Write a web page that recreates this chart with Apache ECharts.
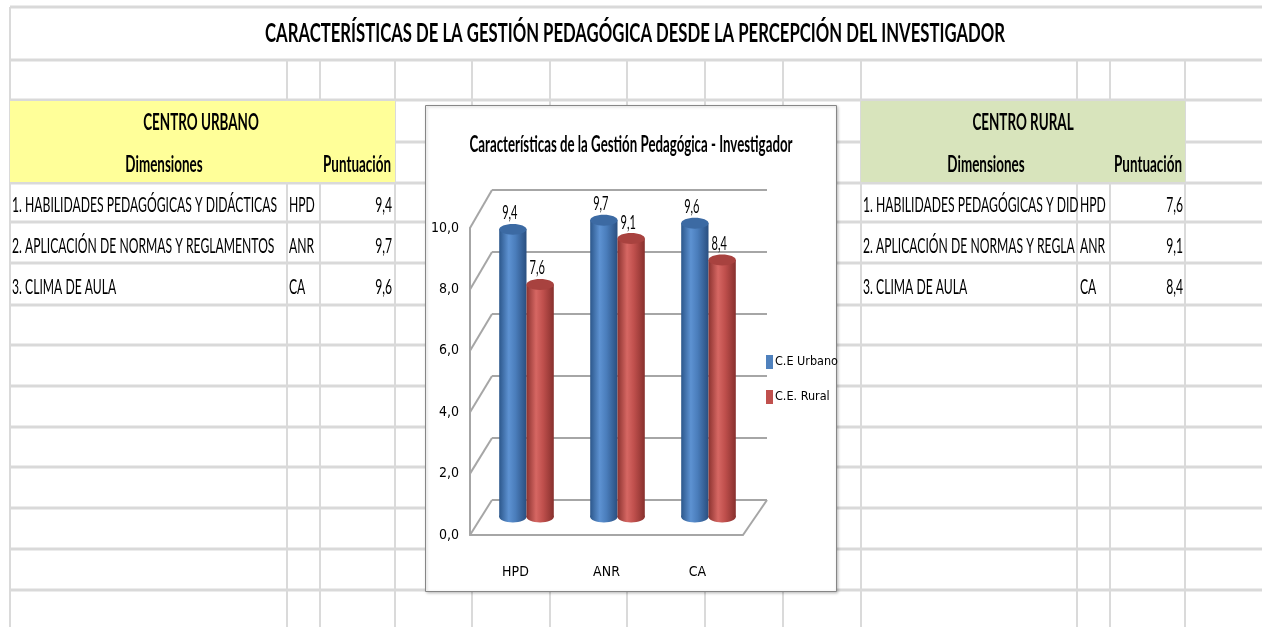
<!DOCTYPE html>
<html>
<head>
<meta charset="utf-8">
<script src="https://cdn.jsdelivr.net/npm/echarts@6/dist/echarts.min.js"></script>
<style>
  html, body { margin: 0; padding: 0; background: #fff; }
  #chart { width: 1262px; height: 627px; }
</style>
</head>
<body>
<div id="chart"></div>
<script>
// ---- data ----
const sheetTitle = 'CARACTERÍSTICAS DE LA GESTIÓN PEDAGÓGICA DESDE LA PERCEPCIÓN DEL INVESTIGADOR';
const chartTitle = 'Características de la Gestión Pedagógica - Investigador';
const categories = ['HPD', 'ANR', 'CA'];
const dimensions = [
  '1. HABILIDADES PEDAGÓGICAS Y DIDÁCTICAS',
  '2. APLICACIÓN DE NORMAS Y REGLAMENTOS',
  '3. CLIMA DE AULA'
];
const seriesNames = ['C.E Urbano', 'C.E. Rural'];
const urbanScores = [9.4, 9.7, 9.6];
const ruralScores = [7.6, 9.1, 8.4];
const yTicks = [0, 2, 4, 6, 8, 10];

// ---- layout (spreadsheet + 3d frame planes) ----
const rowLines = [7, 60, 100, 142, 183, 222, 263, 305, 345, 386, 427, 467, 508, 549, 590];
const colLines = [10, 287, 320, 395, 472, 550, 627, 705, 783, 861, 1077, 1110, 1185];
const rowY = [205, 246, 287];
const FRONT = { left: 470, top: 228, width: 273, height: 307 };
const MID = { left: 481, top: 211, width: 273, height: 306 };
const BACK = { left: 492, top: 190, width: 275, height: 310 };

const fmt = v => Number(v).toFixed(1).replace('.', ',');

const ctx = document.createElement('canvas').getContext('2d');
function textWidth(t, font) { ctx.font = font; return ctx.measureText(t).width; }
function hasFont(name) {
  const probe = 'abcdefghijklmnopqrstuvwxyz0123456789,.ABC';
  return textWidth(probe, '40px monospace') !== textWidth(probe, `40px '${name}', monospace`);
}
const narrow = ['Liberation Sans Narrow', 'DejaVu Sans Condensed', 'Roboto Condensed'].find(hasFont) || 'Roboto';

const regFont = '22px Lato';
const boldFont = 'bold 22px Lato';
const labelFont = '20px Lato';
const kReg = 265 / textWidth(dimensions[0], regFont);
const kBold = 68 / textWidth('Puntuación', boldFont);

function txt(text, x, y, font, k, align) {
  return {
    type: 'text', x, y, scaleX: k, z: 1, silent: true,
    style: { text, font, fill: '#000', align: align || 'left', verticalAlign: 'middle' }
  };
}
function clipText(text, font, k, maxW) {
  let t = text;
  while (t.length && textWidth(t, font) * k > maxW) t = t.slice(0, -1);
  return t;
}

const palette = {
  blue: { base: '#4f81bd', top: '#3c6aa3', stops: ['#2c578b', '#5d92d2', '#4a7dbb', '#2a4f80'] },
  red: { base: '#c0504d', top: '#a8423f', stops: ['#8c3330', '#d66763', '#c0504d', '#87302d'] }
};

function cylinder(side, colors) {
  return function (params, api) {
    const i = api.value(0);
    const v = api.value(1);
    const base = api.coord([i, 0]);
    const top = api.coord([i, v]);
    const band = api.size([1, 0])[0];
    const w = band * 0.3;
    const cx = base[0] + side * w / 2;
    const ry = w * 0.2;
    const body = new echarts.graphic.LinearGradient(0, 0, 1, 0, [
      { offset: 0, color: colors.stops[0] },
      { offset: 0.35, color: colors.stops[1] },
      { offset: 0.6, color: colors.stops[2] },
      { offset: 1, color: colors.stops[3] }
    ]);
    return {
      type: 'group',
      children: [
        { type: 'ellipse', shape: { cx, cy: base[1], rx: w / 2, ry }, style: { fill: body } },
        { type: 'rect', shape: { x: cx - w / 2, y: top[1], width: w, height: base[1] - top[1] }, style: { fill: body } },
        { type: 'ellipse', shape: { cx, cy: top[1], rx: w / 2, ry }, style: { fill: colors.top } },
        {
          type: 'text', x: cx - 3, y: top[1] - ry - 1, scaleX: kReg,
          style: { text: fmt(v), font: labelFont, fill: '#000', align: 'center', verticalAlign: 'bottom' }
        }
      ]
    };
  };
}

const chart = echarts.init(document.getElementById('chart'));

const axisColor = '#a6a6a6';
chart.setOption({
  animation: false,
  backgroundColor: '#fff',
  grid: [FRONT, MID, BACK].map(g => Object.assign({ containLabel: false, outerBoundsMode: 'none' }, g)),
  legend: {
    orient: 'vertical', left: 761, top: 350,
    icon: 'rect', itemWidth: 7, itemHeight: 14, itemGap: 21,
    data: seriesNames,
    textStyle: { fontFamily: narrow, fontSize: 12.5, color: '#000', padding: [0, 0, 0, -3] }
  },
  xAxis: [
    {
      gridIndex: 0, type: 'category', data: categories,
      axisLine: { lineStyle: { color: axisColor, width: 2 } },
      axisTick: { show: false }, splitLine: { show: false },
      axisLabel: { margin: 30, color: '#000', fontFamily: narrow, fontSize: 14 }
    },
    { gridIndex: 1, type: 'category', data: categories, show: false },
    { gridIndex: 2, type: 'category', data: categories, show: false }
  ],
  yAxis: [
    {
      gridIndex: 0, type: 'value', min: yTicks[0], max: yTicks[yTicks.length - 1], interval: yTicks[1] - yTicks[0],
      axisLine: { show: true, lineStyle: { color: axisColor, width: 2 } },
      axisTick: { show: false }, splitLine: { show: false },
      axisLabel: { formatter: fmt, margin: 11, color: '#000', fontFamily: narrow, fontSize: 14 }
    },
    {
      gridIndex: 1, type: 'value', min: yTicks[0], max: yTicks[yTicks.length - 1], interval: yTicks[1] - yTicks[0],
      show: false
    },
    {
      gridIndex: 2, type: 'value', min: yTicks[0], max: yTicks[yTicks.length - 1], interval: yTicks[1] - yTicks[0],
      axisLine: { show: false }, axisTick: { show: false }, axisLabel: { show: false },
      splitLine: { show: true, lineStyle: { color: axisColor, width: 2 } }
    }
  ],
  series: [
    {
      name: seriesNames[0], type: 'custom', xAxisIndex: 1, yAxisIndex: 1, clip: false,
      itemStyle: { color: palette.blue.base },
      renderItem: cylinder(-1, palette.blue),
      data: urbanScores.map((v, i) => [i, v])
    },
    {
      name: seriesNames[1], type: 'custom', xAxisIndex: 1, yAxisIndex: 1, clip: false,
      itemStyle: { color: palette.red.base },
      renderItem: cylinder(1, palette.red),
      data: ruralScores.map((v, i) => [i, v])
    }
  ]
});

// ---- spreadsheet background + 3d frame ----
const els = [];
rowLines.forEach(y => els.push({
  type: 'line', z: -10, silent: true,
  shape: { x1: 10, y1: y, x2: 1262, y2: y }, style: { stroke: '#d9d9d9', lineWidth: 3 }
}));
colLines.forEach((x, i) => els.push({
  type: 'line', z: -10, silent: true,
  shape: { x1: x, y1: i === 0 ? 7 : 60, x2: x, y2: 627 }, style: { stroke: '#dadada', lineWidth: 2 }
}));
els.push({ type: 'rect', z: -9, silent: true, shape: { x: 10, y: 101, width: 385, height: 81 }, style: { fill: '#ffff99' } });
els.push({ type: 'rect', z: -9, silent: true, shape: { x: 861, y: 101, width: 324, height: 81 }, style: { fill: '#d8e4bc' } });
els.push({
  type: 'rect', z: -8, silent: true,
  shape: { x: 425.5, y: 105.5, width: 411, height: 486 },
  style: { fill: '#fff', stroke: '#868686', lineWidth: 1, shadowBlur: 3, shadowColor: 'rgba(0,0,0,0.25)', shadowOffsetX: 1, shadowOffsetY: 1 }
});

// titles
const tFont = 'bold 26px Lato';
els.push(txt(sheetTitle, 635, 34, tFont, 740 / textWidth(sheetTitle, tFont), 'center'));
const ctFont = 'bold 22px Lato';
els.push(txt(chartTitle, 631, 145, ctFont, 323 / textWidth(chartTitle, ctFont), 'center'));

// tables
function table(opts) {
  els.push(txt(opts.header, opts.headerX, 123, boldFont, kBold, 'center'));
  els.push(txt('Dimensiones', opts.dimX, 165, boldFont, kBold, 'center'));
  els.push(txt('Puntuación', opts.valX - 1, 165, boldFont, kBold, 'right'));
  opts.values.forEach((v, i) => {
    els.push(txt(clipText(dimensions[i], regFont, kReg, opts.nameMax), opts.nameX, rowY[i], regFont, kReg, 'left'));
    els.push(txt(categories[i], opts.codeX, rowY[i], regFont, kReg, 'left'));
    els.push(txt(fmt(v), opts.valX, rowY[i], regFont, kReg, 'right'));
  });
}
table({ header: 'CENTRO URBANO', headerX: 201, dimX: 164, nameX: 12, nameMax: 272, codeX: 289, valX: 392, values: urbanScores });
table({ header: 'CENTRO RURAL', headerX: 1023, dimX: 986, nameX: 863, nameMax: 218, codeX: 1080, valX: 1183, values: ruralScores });

// 3d walls: left wall diagonals and floor edge, from axis scales
const frontY = v => chart.convertToPixel({ yAxisIndex: 0 }, v);
const backY = v => chart.convertToPixel({ yAxisIndex: 2 }, v);
yTicks.forEach(v => els.push({
  type: 'line', z: 1, silent: true,
  shape: { x1: FRONT.left, y1: frontY(v), x2: BACK.left, y2: backY(v) },
  style: { stroke: axisColor, lineWidth: 2 }
}));
els.push({
  type: 'line', z: 1, silent: true,
  shape: { x1: FRONT.left + FRONT.width, y1: frontY(0), x2: BACK.left + BACK.width, y2: backY(0) },
  style: { stroke: axisColor, lineWidth: 2 }
});

chart.setOption({ graphic: { elements: els } });
</script>
</body>
</html>
